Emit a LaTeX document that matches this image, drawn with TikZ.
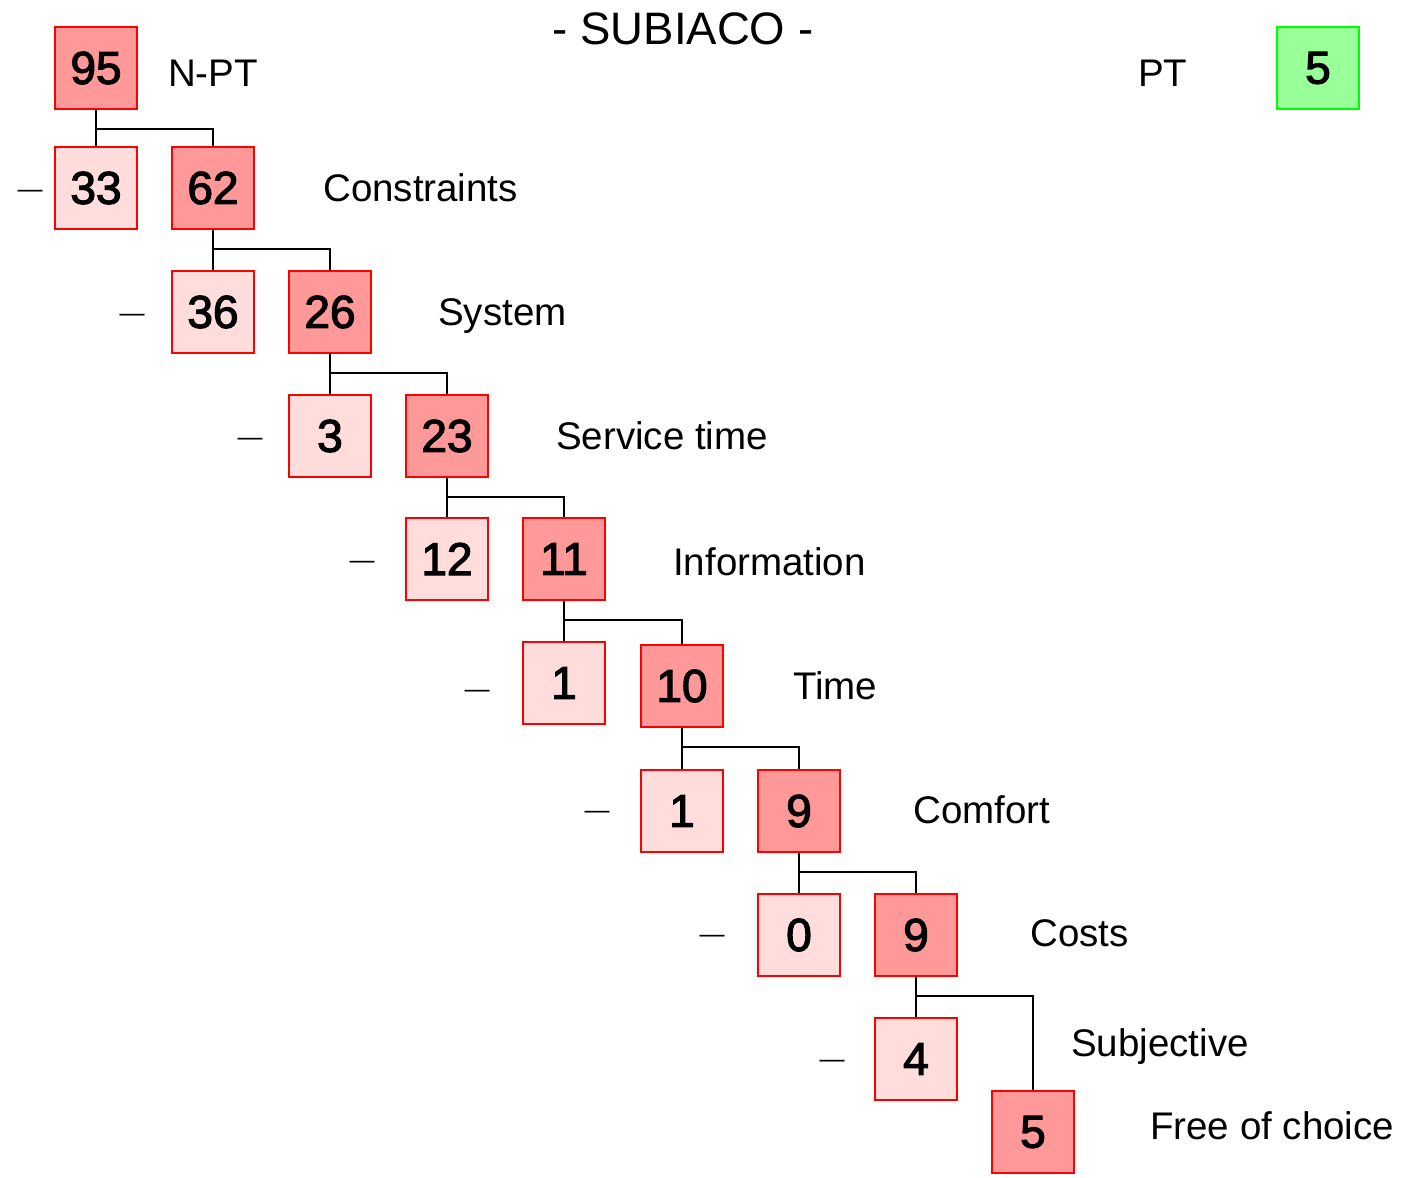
\documentclass[tikz,border=0pt]{standalone}
\usepackage{fontspec}
\setmainfont{Liberation Sans}
\newfontfamily\numfont[FakeBold=2.6]{Liberation Sans}
\definecolor{redline}{HTML}{FF0000}
\definecolor{darkfill}{HTML}{FF9999}
\definecolor{lightfill}{HTML}{FFDDDD}
\definecolor{greenline}{HTML}{00FF00}
\definecolor{greenfill}{HTML}{99FF99}
\tikzset{
  box/.style={draw=redline, line width=2pt, minimum width=82pt, minimum height=82pt, inner sep=0pt, font=\numfont\fontsize{46}{46}\selectfont},
  dbox/.style={box, fill=darkfill},
  lbox/.style={box, fill=lightfill},
  gbox/.style={box, draw=greenline, fill=greenfill},
  lab/.style={anchor=base west, inner sep=0pt, font=\fontsize{38.5}{40}\selectfont},
  dsh/.style={anchor=base, inner sep=0pt, font=\fontsize{25}{25}\selectfont},
  conn/.style={draw=black, line width=2pt}
}
\begin{document}
\begin{tikzpicture}[x=1pt,y=-1pt]
\useasboundingbox (0,0) rectangle (1401,1178);
% title
\node[anchor=base, inner sep=0pt, font=\fontsize{45.5}{46}\selectfont] (title) at (683,44) {- SUBIACO -};
% boxes
\node[dbox] (n95) at (96,68) {95};
\node[gbox] (pt5) at (1318,68) {5};
\node[lbox] (n33) at (96,188) {33};
\node[dbox] (n62) at (213,188) {62};
\node[lbox] (n36) at (213,312) {36};
\node[dbox] (n26) at (330,312) {26};
\node[lbox] (n3) at (330,436) {3};
\node[dbox] (n23) at (447,436) {23};
\node[lbox] (n12) at (447,559) {12};
\node[dbox] (n11) at (564,559) {11};
\node[lbox] (n1a) at (564,683) {1};
\node[dbox] (n10) at (682,686) {10};
\node[lbox] (n1b) at (682,811) {1};
\node[dbox] (n9a) at (799,811) {9};
\node[lbox] (n0) at (799,935) {0};
\node[dbox] (n9b) at (916,935) {9};
\node[lbox] (n4) at (916,1059) {4};
\node[dbox] (n5) at (1033,1132) {5};
% labels
\node[lab] (lnpt) at (168,86) {N-PT};
\node[lab] (lpt) at (1138,86) {PT};
\node[lab] (lcon) at (323,201) {Constraints};
\node[lab] (lsys) at (438,325) {System};
\node[lab] (lser) at (556,449) {Service time};
\node[lab] (linf) at (673,575) {Information};
\node[lab] (ltim) at (793,699) {Time};
\node[lab] (lcom) at (913,823) {Comfort};
\node[lab] (lcos) at (1030,946) {Costs};
\node[lab] (lsub) at (1071,1056) {Subjective};
\node[lab] (lfre) at (1150,1139) {Free of choice};
% dashes
\node[dsh] (d2) at (30,197) {—};
\node[dsh] (d3) at (132,321) {—};
\node[dsh] (d4) at (250,445) {—};
\node[dsh] (d5) at (362,568) {—};
\node[dsh] (d6) at (477,697) {—};
\node[dsh] (d7) at (597,818) {—};
\node[dsh] (d8) at (712,942) {—};
\node[dsh] (d9) at (832,1067) {—};
% connectors
\foreach \p/\a/\b in {n95/n33/n62, n62/n36/n26, n26/n3/n23, n23/n12/n11, n11/n1a/n10, n10/n1b/n9a, n9a/n0/n9b, n9b/n4/n5}{
  \draw[conn] (\p.south) -- (\a.north);
  \draw[conn] (\p.south) ++(0,19) -| (\b.north);
}
\end{tikzpicture}
\end{document}
